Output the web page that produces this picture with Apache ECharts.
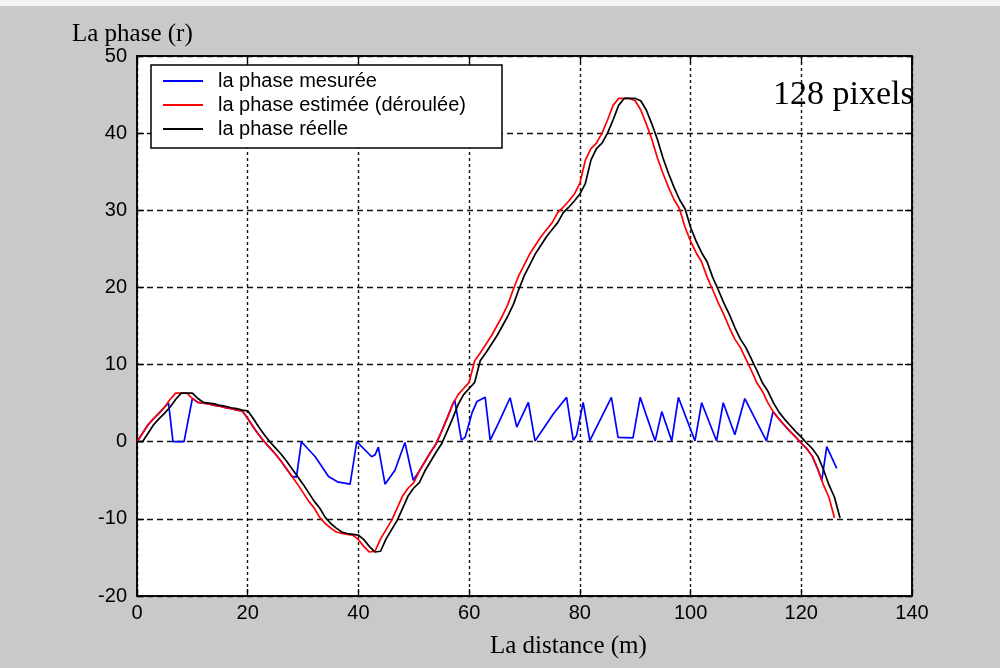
<!DOCTYPE html>
<html>
<head>
<meta charset="utf-8">
<script src="https://cdn.jsdelivr.net/npm/echarts@6/dist/echarts.min.js"></script>
<style>
  html, body { margin: 0; padding: 0; background: #c9c9c9; }
  #chart { width: 1000px; height: 668px; }
</style>
</head>
<body>
<div id="chart"></div>
<script>
// Phase estimée (déroulée), one sample per metre, 0..126 m
const phaseEstimee = [0, 1.1, 2.2, 3.0, 3.7, 4.5, 5.5, 6.3, 6.3, 6.3, 5.6, 5.1, 5.0, 4.9, 4.7, 4.6, 4.4, 4.3, 4.1, 4.0,
  3.0, 1.9, 0.9, 0.0, -0.8, -1.6, -2.5, -3.5, -4.5, -5.5, -6.6, -7.7, -8.6, -9.8, -10.6, -11.2, -11.7, -11.9, -12.0, -12.1,
  -12.7, -13.6, -14.3, -14.2, -12.6, -11.4, -10.2, -8.6, -7.0, -6.0, -5.3, -3.8, -2.6, -1.4, -0.3, 1.3, 3.0, 4.8, 6.1, 6.9,
  7.7, 10.5, 11.5, 12.6, 13.7, 15.0, 16.3, 17.8, 19.8, 21.6, 23.0, 24.4, 25.5, 26.6, 27.5, 28.4, 29.7, 30.4, 31.2, 32.1,
  33.5, 36.5, 38.0, 38.7, 40.0, 41.7, 43.6, 44.5, 44.5, 44.5, 44.2, 43.0, 41.2, 39.2, 36.8, 34.8, 33.0, 31.4, 30.2, 27.8,
  26.0, 24.5, 23.3, 21.3, 19.7, 18.0, 16.5, 14.8, 13.3, 12.2, 10.7, 9.2, 7.6, 6.5, 5.0, 3.8, 2.9, 2.1, 1.3, 0.6,
  -0.2, -0.9, -1.9, -3.6, -5.6, -7.2, -9.9];

// Phase réelle, one sample per metre, 0..127 m
const phaseReelle = [0, 0, 1.1, 2.2, 3.0, 3.7, 4.5, 5.5, 6.3, 6.3, 6.3, 5.6, 5.1, 5.0, 4.9, 4.7, 4.6, 4.4, 4.3, 4.1, 4.0,
  3.0, 1.9, 0.9, 0.0, -0.8, -1.6, -2.5, -3.5, -4.5, -5.5, -6.6, -7.7, -8.6, -9.8, -10.6, -11.2, -11.7, -11.9, -12.0, -12.1,
  -12.7, -13.6, -14.3, -14.2, -12.6, -11.4, -10.2, -8.6, -7.0, -6.0, -5.3, -3.8, -2.6, -1.4, -0.3, 1.3, 3.0, 4.8, 6.1, 6.9,
  7.7, 10.5, 11.5, 12.6, 13.7, 15.0, 16.3, 17.8, 19.8, 21.6, 23.0, 24.4, 25.5, 26.6, 27.5, 28.4, 29.7, 30.4, 31.2, 32.1,
  33.5, 36.5, 38.0, 38.7, 40.0, 41.7, 43.6, 44.5, 44.5, 44.5, 44.2, 43.0, 41.2, 39.2, 36.8, 34.8, 33.0, 31.4, 30.2, 27.8,
  26.0, 24.5, 23.3, 21.3, 19.7, 18.0, 16.5, 14.8, 13.3, 12.2, 10.7, 9.2, 7.6, 6.5, 5.0, 3.8, 2.9, 2.1, 1.3, 0.6,
  -0.2, -0.9, -1.9, -3.6, -5.6, -7.2, -9.9];

// Phase mesurée (repliée) : distance (m) and phase (r)
const mesureeX = [0, 1, 2, 3, 4, 5, 5.7, 6.5, 8.5, 10, 11, 12, 13, 14, 15, 16, 17, 18, 19, 20,
  21, 22, 23, 24, 25, 26, 27, 28, 28.8, 29.7, 32.2, 34.6, 36.2, 38.5, 39.7, 42.4, 43.0, 43.6, 44.8, 46.6,
  48.4, 49.9, 51, 52, 53, 54, 55, 56, 57, 57.4, 58.6, 59.3, 60.5, 61.4, 62.9, 63.8, 65.3, 67.4, 68.6, 70.7,
  71.9, 75.2, 77.6, 78.8, 79.4, 80.6, 81.8, 85.7, 86.9, 89.6, 90.9, 93.6, 94.8, 96.6, 97.8, 100.8, 102.0, 104.7, 105.9, 108.0,
  109.8, 113.7, 114.9, 116, 117, 118, 119, 120, 121, 122, 123, 123.7, 124.6, 126.4];
const mesureeY = [0, 1.1, 2.2, 3.0, 3.7, 4.5, 5.0, 0, 0, 5.6, 5.1, 5.0, 4.9, 4.7, 4.6, 4.4, 4.3, 4.1, 4.0, 3.0,
  1.9, 0.9, 0.0, -0.8, -1.6, -2.5, -3.5, -4.5, -4.6, 0, -1.95, -4.5, -5.2, -5.5, 0, -1.95, -1.7, -0.7, -5.5, -3.7,
  -0.1, -5.0, -3.8, -2.6, -1.4, -0.3, 1.3, 3.0, 4.8, 5.4, 0.2, 0.6, 3.7, 5.2, 5.75, 0.2, 2.4, 5.7, 1.9, 5.1,
  0.1, 3.6, 5.75, 0.2, 0.8, 5.1, 0.15, 5.75, 0.55, 0.5, 5.75, 0.1, 3.9, 0.1, 5.75, 0.1, 5.05, 0.1, 5.05, 0.9,
  5.6, 0.1, 3.9, 2.9, 2.1, 1.3, 0.6, -0.2, -0.9, -1.9, -3.6, -5.0, -0.65, -3.45];

const seriesNames = ['la phase mesurée', 'la phase estimée (déroulée)', 'la phase réelle'];

const chart = echarts.init(document.getElementById('chart'), null, { renderer: 'canvas' });

const labelFont = { fontFamily: 'Liberation Sans, Arial, sans-serif', fontSize: 20, color: '#000' };
const serifFont = 'Liberation Serif, Times New Roman, serif';

const frameLine = { show: true, onZero: false, lineStyle: { color: '#000', width: 1.5 } };
const frameTick = { show: true, inside: true, length: 7, lineStyle: { color: '#000', width: 1.3 } };

const mirrorAxis = {
  axisLine: frameLine,
  axisTick: frameTick,
  axisLabel: { show: false },
  splitLine: { show: false }
};

chart.setOption({
  backgroundColor: '#c9c9c9',
  animation: false,
  grid: {
    left: 137, top: 56, width: 775, height: 540,
    show: true, backgroundColor: '#ffffff', borderColor: '#000', borderWidth: 1.5
  },
  legend: {
    data: seriesNames,
    orient: 'vertical',
    left: 151, top: 65,
    padding: [6, 12, 6, 12],
    itemWidth: 40, itemHeight: 2, itemGap: 4,
    icon: 'rect',
    z: 20,
    textStyle: Object.assign({}, labelFont, { lineHeight: 20, padding: [0, 0, 0, 10] })
  },
  xAxis: [
    {
      type: 'value', min: 0, max: 140, interval: 20, position: 'bottom',
      axisLine: frameLine,
      axisTick: frameTick,
      axisLabel: Object.assign({ margin: 7 }, labelFont),
      splitLine: { show: true, lineStyle: { color: '#111', width: 1.4, type: [3, 3] } }
    },
    Object.assign({ type: 'value', min: 0, max: 140, interval: 20, position: 'top' }, mirrorAxis)
  ],
  yAxis: [
    {
      type: 'value', min: -20, max: 50, interval: 10, position: 'left',
      axisLine: frameLine,
      axisTick: frameTick,
      axisLabel: Object.assign({ margin: 10 }, labelFont),
      splitLine: { show: true, lineStyle: { color: '#111', width: 1.4, type: [6, 4] } }
    },
    Object.assign({ type: 'value', min: -20, max: 50, interval: 10, position: 'right' }, mirrorAxis)
  ],
  graphic: [
    { type: 'rect', left: 0, top: 0, shape: { width: 1000, height: 6 }, style: { fill: '#f3f3f3' }, z: 1 },
    { type: 'rect', shape: { x: 151, y: 65, width: 351, height: 83 },
      style: { fill: '#ffffff', stroke: '#000', lineWidth: 1.5 }, z: 10 },
    { type: 'text', x: 72, y: 22, z: 30,
      style: { text: 'La phase (r)', font: '25px ' + serifFont, fill: '#000' } },
    { type: 'text', x: 490, y: 634, z: 30,
      style: { text: 'La distance (m)', font: '25px ' + serifFont, fill: '#000' } },
    { type: 'text', x: 773, y: 78, z: 30,
      style: { text: '128 pixels', font: '34px ' + serifFont, fill: '#000' } }
  ],
  series: [
    {
      name: seriesNames[0], type: 'line', symbol: 'none',
      data: mesureeX.map((x, i) => [x, mesureeY[i]]),
      lineStyle: { color: '#0000ff', width: 1.7 }, itemStyle: { color: '#0000ff' }
    },
    {
      name: seriesNames[1], type: 'line', symbol: 'none',
      data: phaseEstimee.map((y, i) => [i, y]),
      lineStyle: { color: '#ff0000', width: 1.7 }, itemStyle: { color: '#ff0000' }
    },
    {
      name: seriesNames[2], type: 'line', symbol: 'none',
      data: phaseReelle.map((y, i) => [i, y]),
      lineStyle: { color: '#000000', width: 1.7 }, itemStyle: { color: '#000000' }
    }
  ]
});
</script>
</body>
</html>
